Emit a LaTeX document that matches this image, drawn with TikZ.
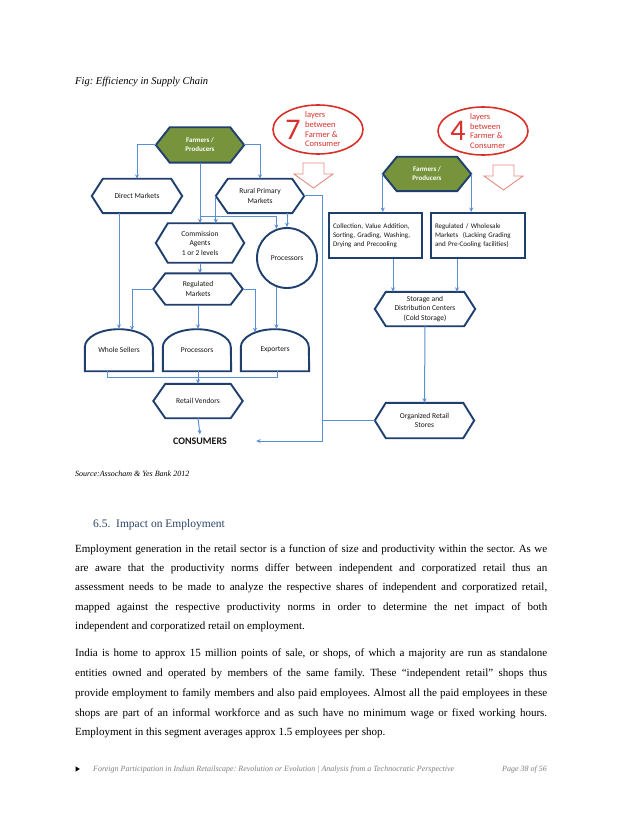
\documentclass[tikz,border=0pt]{standalone}
\usepackage{fontspec}
\setmainfont{Liberation Serif}
\newfontfamily\diagfont{Carlito}
\usetikzlibrary{shapes.geometric,arrows.meta,calc}
\frenchspacing
\pgfdeclarelayer{bgzero}
\pgfdeclarelayer{bgone}
\pgfsetlayers{bgzero,bgone,main}
\definecolor{navy}{HTML}{1F3F6E}
\definecolor{linec}{HTML}{5A8FD6}
\definecolor{leaf}{HTML}{77933C}
\definecolor{redc}{HTML}{D8302B}
\definecolor{pinkc}{HTML}{E88A80}
\definecolor{txt}{HTML}{151515}
\definecolor{headc}{HTML}{2B4566}
\definecolor{footc}{HTML}{7F7F7F}
\newcommand{\hexpath}[3]{\path[draw=navy,line width=1.9pt,fill=#3,line join=miter] (#1.west) -- ([xshift=#2]#1.north west) -- ([xshift=-#2]#1.north east) -- (#1.east) -- ([xshift=-#2]#1.south east) -- ([xshift=#2]#1.south west) -- cycle;}
\newcommand{\domepath}[1]{\path[draw=navy,line width=1.9pt,fill=white] (#1.south west) -- ++(0pt,24pt) arc[start angle=180,end angle=0,x radius=34pt,y radius=18pt] -- (#1.south east) -- cycle;}
\begin{document}
\frenchspacing
\begin{tikzpicture}[x=1pt,y=-1pt,
  box/.style={rectangle, draw=none, inner sep=0pt, align=center, text=txt, font=\diagfont\fontsize{7.5}{9.5}\selectfont},
  greentext/.style={text=white, font=\diagfont\bfseries\fontsize{7}{9}\selectfont},
  rbx/.style={rectangle, draw=navy, line width=1.9pt, fill=white, inner xsep=4pt, inner ysep=0pt, minimum height=45pt, align=left, text=txt, font=\diagfont\fontsize{7}{9.3}\selectfont},
  conn/.style={draw=linec, line width=1pt, -{Stealth[length=4.5pt,width=4pt]}},
  connl/.style={draw=linec, line width=1pt},
  body/.style={anchor=base west, inner sep=0pt, font=\fontsize{11}{13}\selectfont},
  redtext/.style={anchor=west, align=left, text=redc, inner sep=0pt, font=\diagfont\fontsize{8.5}{9.7}\selectfont},
  bignum/.style={text=redc, inner sep=0pt, font=\diagfont\fontsize{30}{30}\selectfont},
  redell/.style={ellipse, draw=redc, line width=1.6pt, minimum width=90pt, minimum height=49pt, inner sep=0pt},
  blockarrow/.style={draw=pinkc, line width=0.9pt, fill=white, line join=miter}
]
\begin{pgfonlayer}{bgzero}
\fill[white] (0,0) rectangle (638,826);
\end{pgfonlayer}
\useasboundingbox (0,0) rectangle (638,826);

% ---------- heading text
\node[anchor=base west, inner sep=0pt, font=\itshape\fontsize{10.5}{12}\selectfont] (title) at (75,85) {Fig: Efficiency in Supply Chain};

% ---------- left chain
\node[box, greentext, minimum width=88pt, minimum height=35pt] (fp1) at (200,145) {Farmers /\\Producers};
\node[box, minimum width=90pt, minimum height=34pt] (dm) at (137,196) {Direct Markets};
\node[box, minimum width=88pt, minimum height=34pt] (rpm) at (260,196) {Rural Primary\\Markets};
\node[box, minimum width=88pt, minimum height=39pt] (ca) at (200,243) {Commission\\Agents\\1 or 2 levels};
\node[circle, draw=navy, line width=1.9pt, fill=white, minimum size=60pt, inner sep=0pt, text=txt, font=\diagfont\fontsize{7.5}{9.5}\selectfont] (proc1) at (287,258) {Processors};
\node[box, minimum width=89pt, minimum height=31pt] (reg) at (198,289) {Regulated\\Markets};
\node[box, minimum width=68pt, minimum height=42pt] (ws) at (119,350) {\raisebox{-3pt}{Whole Sellers}};
\node[box, minimum width=68pt, minimum height=42pt] (pr2) at (197,350) {\raisebox{-3pt}{Processors}};
\node[box, minimum width=68pt, minimum height=42pt] (ex) at (275,350) {\raisebox{-3pt}{Exporters}};
\node[box, minimum width=89pt, minimum height=34pt] (rv) at (198,401) {Retail Vendors};
\node[box, inner ysep=3pt, minimum width=112pt, font=\diagfont\bfseries\fontsize{10}{12}\selectfont] (cons) at (200,441) {CONSUMERS};

% ---------- right chain
\node[redell] (e7) at (318,129.5) {};
\node[bignum] (n7) at (293,130) {7};
\node[redtext] (t7) at (305,129.5) {layers\\between\\Farmer \&\\Consumer};
\node[redell, minimum height=48pt] (e4) at (483,131) {};
\node[bignum] (n4) at (458,131) {4};
\node[redtext] (t4) at (470,131) {layers\\between\\Farmer \&\\Consumer};

\path[blockarrow] (303,163) -- (324,163) -- (324,174) -- (333,174) -- (313.5,188) -- (294,174) -- (303,174) -- cycle;
\path[blockarrow] (493,165) -- (514,165) -- (514,176) -- (523,176) -- (503.5,190) -- (484,176) -- (493,176) -- cycle;

\node[box, greentext, minimum width=88pt, minimum height=34pt] (fp2) at (427,174) {Farmers /\\Producers};
\node[rbx, text width=85pt] (cbox) at (375.5,235.5) {Collection, Value Addition,\\Sorting, Grading, Washing,\\Drying and Precooling};
\node[rbx, text width=86pt] (rbox) at (478,235.5) {Regulated / Wholesale\\Markets~ (Lacking Grading\\and Pre-Cooling facilities)};
\node[box, minimum width=100pt, minimum height=34pt] (stor) at (425,309) {Storage and\\Distribution Centers\\(Cold Storage)};
\node[box, minimum width=99pt, minimum height=35pt] (ors) at (424.5,420.5) {Organized Retail\\Stores};

% ---------- shape outlines
\begin{pgfonlayer}{bgone}
\hexpath{fp1}{14pt}{leaf}
\hexpath{dm}{11pt}{white}
\hexpath{rpm}{12pt}{white}
\hexpath{ca}{12pt}{white}
\hexpath{reg}{12pt}{white}
\hexpath{rv}{12pt}{white}
\hexpath{fp2}{14pt}{leaf}
\hexpath{stor}{11pt}{white}
\hexpath{ors}{11pt}{white}
\domepath{ws}
\domepath{pr2}
\domepath{ex}
\end{pgfonlayer}

% ---------- connectors left
\coordinate (j1) at (200,217);
\coordinate (mrg) at (198,377);
\coordinate (busb) at (322,441);
\draw[conn] (fp1.west) -| (dm.north);
\draw[conn] (fp1.east) -| (rpm.north);
\draw[conn] (fp1.south) -- (fp1.south |- ca.north);
\draw[conn] (j1) -| (proc1.110);
\draw[conn] (rpm.west) -- (rpm.west |- ca.north);
\draw[conn] (rpm.south -| proc1.north) -- (proc1.north);
\draw[conn] (ca.south) -- (ca.south |- reg.north);
\draw[conn] (dm.south -| ws.north) -- (ws.north);
\draw[conn] (reg.west) -| ([xshift=13pt,yshift=-1.4pt]ws.north);
\draw[conn] (reg.south) -- (reg.south |- pr2.north);
\draw[conn] (reg.east) -| ([xshift=-20pt,yshift=-3.4pt]ex.north);
\draw[conn] (proc1.-110) -- (proc1.-110 |- ex.north);
\draw[connl] ([xshift=-12pt]ws.south) |- (mrg);
\draw[connl] ([xshift=2pt]ex.south) |- (mrg);
\draw[conn] (pr2.south -| rv.north) -- (rv.north);
\draw[conn] (rv.south) -- (cons.north);

% ---------- connectors right
\draw[conn] (fp2.west) -- (fp2.west |- cbox.north);
\draw[conn] (fp2.east) -- (fp2.east |- rbox.north);
\draw[conn] ([xshift=17.5pt]cbox.south) -- ([xshift=17.5pt]cbox.south |- stor.north);
\draw[conn] ([xshift=-21pt]rbox.south) -- ([xshift=-21pt]rbox.south |- stor.north);
\draw[conn] (stor.south) -- (ors.north);
\draw[connl] (ors.west) -- (ors.west -| busb);
\draw[conn] (rpm.east) -| (busb) -- (cons.east);

% ---------- text below
\node[anchor=base west, inner sep=0pt, font=\itshape\fontsize{8}{10}\selectfont] (src) at (75,476) {Source:Assocham \& Yes Bank 2012};
\node[anchor=base west, inner sep=0pt, text=headc, font=\fontsize{11.5}{14}\selectfont] (head) at (93,527) {6.5.\ \ Impact on Employment};

\node[body] (p1a) at (75,552.3) {\makebox[472pt][s]{Employment generation in the retail sector is a function of size and productivity within the sector. As we}};
\node[body] (p1b) at (75,571.7) {\makebox[472pt][s]{are aware that the productivity norms differ between independent and corporatized retail thus an}};
\node[body] (p1c) at (75,590.6) {\makebox[472pt][s]{assessment needs to be made to analyze the respective shares of independent and corporatized retail,}};
\node[body] (p1d) at (75,610) {\makebox[472pt][s]{mapped against the respective productivity norms in order to determine the net impact of both}};
\node[body] (p1e) at (75,629.7) {independent and corporatized retail on employment.};

\node[body] (p2a) at (75,656.3) {\makebox[472pt][s]{India is home to approx 15 million points of sale, or shops, of which a majority are run as standalone}};
\node[body] (p2b) at (75,676.3) {\makebox[472pt][s]{entities owned and operated by members of the same family. These “independent retail” shops thus}};
\node[body] (p2c) at (75,696.3) {\makebox[472pt][s]{provide employment to family members and also paid employees. Almost all the paid employees in these}};
\node[body] (p2d) at (75,716.3) {\makebox[472pt][s]{shops are part of an informal workforce and as such have no minimum wage or fixed working hours.}};
\node[body] (p2e) at (75,735.7) {Employment in this segment averages approx 1.5 employees per shop.};

% ---------- footer
\fill[black] (75.5,766.3) -- (79.8,769) -- (75.5,771.7) -- cycle;
\node[anchor=base west, inner sep=0pt, text=footc, font=\itshape\fontsize{8}{10}\selectfont] (foot) at (93,771.5) {Foreign Participation in Indian Retailscape: Revolution or Evolution | Analysis from a Technocratic Perspective};
\node[anchor=base east, inner sep=0pt, text=footc, font=\itshape\fontsize{8}{10}\selectfont] (page) at (547,771.5) {Page 38 of 56};
\end{tikzpicture}
\end{document}
